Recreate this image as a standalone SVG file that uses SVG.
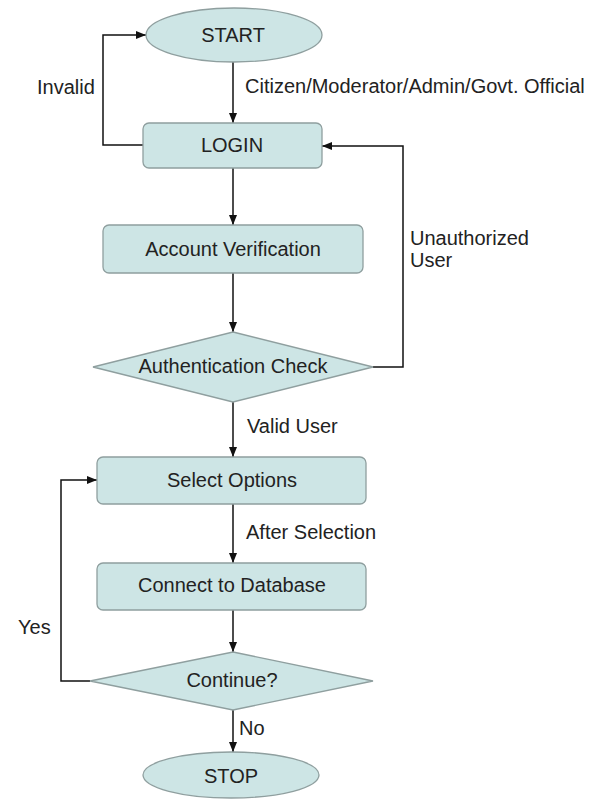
<svg xmlns="http://www.w3.org/2000/svg" width="595" height="801" viewBox="0 0 595 801">
<style>
.n{fill:#cde5e5;stroke:#8f9f9f;stroke-width:1.3}
.t{font-family:"Liberation Sans",Arial,sans-serif;font-size:20px;fill:#222;text-anchor:middle}
.l{font-family:"Liberation Sans",Arial,sans-serif;font-size:20px;fill:#222}
.c{fill:none;stroke:#111;stroke-width:1.5}
</style>
<defs>
<marker id="a" viewBox="0 0 10 8" refX="10" refY="4" markerWidth="10" markerHeight="8" markerUnits="userSpaceOnUse" orient="auto">
<path d="M0,0L10,4L0,8z" fill="#111"/>
</marker>
</defs>
<rect width="595" height="801" fill="#fff"/>
<g id="connectors">
<path class="c" d="M233,62V123" marker-end="url(#a)"/>
<path class="c" d="M143,145H103V35H146" marker-end="url(#a)"/>
<path class="c" d="M233,168V225" marker-end="url(#a)"/>
<path class="c" d="M233,273V332" marker-end="url(#a)"/>
<path class="c" d="M373,367H403V146H322" marker-end="url(#a)"/>
<path class="c" d="M233,402V457" marker-end="url(#a)"/>
<path class="c" d="M233,504V563" marker-end="url(#a)"/>
<path class="c" d="M233,610V652" marker-end="url(#a)"/>
<path class="c" d="M90,681H61V480H97" marker-end="url(#a)"/>
<path class="c" d="M233,710V752" marker-end="url(#a)"/>
<text class="l" x="245" y="93">Citizen/Moderator/Admin/Govt. Official</text>
<text class="l" x="37" y="94">Invalid</text>
<text class="l" x="410" y="245">Unauthorized</text>
<text class="l" x="410" y="267">User</text>
<text class="l" x="247" y="433">Valid User</text>
<text class="l" x="246" y="539">After Selection</text>
<text class="l" x="18" y="634">Yes</text>
<text class="l" x="239" y="735">No</text>
</g>
<g id="start"><ellipse class="n" cx="234" cy="35" rx="88" ry="27"/><text class="t" x="233" y="42">START</text></g>
<g id="login"><rect class="n" x="143" y="123" width="179" height="45" rx="6"/><text class="t" x="232" y="152">LOGIN</text></g>
<g id="account"><rect class="n" x="103" y="225" width="260" height="48" rx="6"/><text class="t" x="233" y="256">Account Verification</text></g>
<g id="auth"><path class="n" d="M233,332L373,367L233,402L93,367Z"/><text class="t" x="233" y="373">Authentication Check</text></g>
<g id="select"><rect class="n" x="97" y="457" width="269" height="47" rx="6"/><text class="t" x="232" y="487">Select Options</text></g>
<g id="connect"><rect class="n" x="97" y="563" width="269" height="47" rx="6"/><text class="t" x="232" y="592">Connect to Database</text></g>
<g id="continue"><path class="n" d="M233,652L373,681L233,710L90,681Z"/><text class="t" x="232" y="687">Continue?</text></g>
<g id="stop"><ellipse class="n" cx="231" cy="775" rx="88" ry="23"/><text class="t" x="231" y="783">STOP</text></g>
</svg>
